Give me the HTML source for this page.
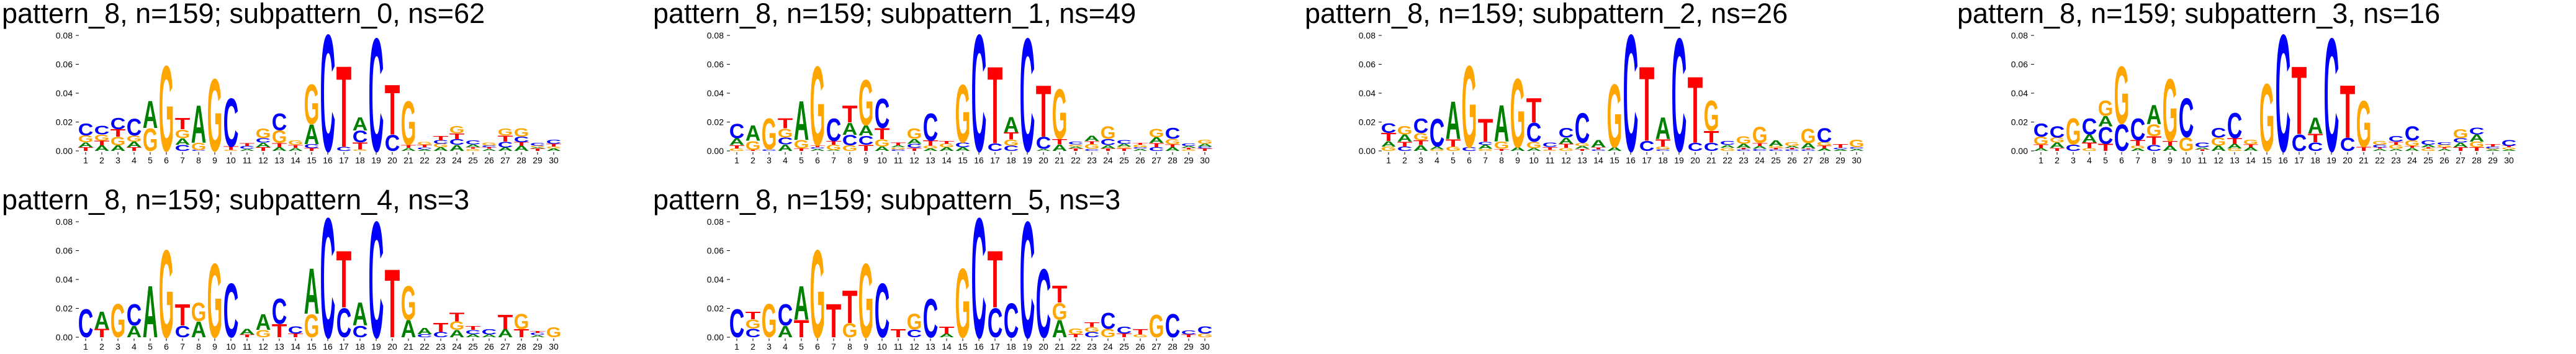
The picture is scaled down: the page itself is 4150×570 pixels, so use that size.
<!DOCTYPE html>
<html><head><meta charset="utf-8">
<style>
html,body{margin:0;padding:0;background:#fff;width:4150px;height:570px;overflow:hidden;}
svg{display:block;overflow:hidden;}
text{font-family:"Liberation Sans",sans-serif;}
</style></head>
<body>
<svg id="chart" width="4150" height="570" xmlns="http://www.w3.org/2000/svg"></svg>
<script>
const titles = [
 "pattern_8, n=159; subpattern_0, ns=62",
 "pattern_8, n=159; subpattern_1, ns=49",
 "pattern_8, n=159; subpattern_2, ns=26",
 "pattern_8, n=159; subpattern_3, ns=16",
 "pattern_8, n=159; subpattern_4, ns=3",
 "pattern_8, n=159; subpattern_5, ns=3"
];
const positions = [1,2,3,4,5,6,7,8,9,10,11,12,13,14,15,16,17,18,19,20,21,22,23,24,25,26,27,28,29,30];
const yTicks = [0, 0.02, 0.04, 0.06, 0.08];
const yTickLabels = ["0.00","0.02","0.04","0.06","0.08"];
// stacks bottom->top, heights in units of 0.001
const stacks0 = ["T2.6 A3.4 G4.7 C8.6","A3.9 T3.3 G4.3 C6.4","A3.9 G5.9 T5.3 C7.9","T2.6 A3.9 G4.3 C11.9","G16 A19.3","G60.7","C4.3 A4.6 G6.1 T7.9","C0.7 G5 A26.7","G51.4","G0.7 T2.4 C34.3","A1.4 C2.1 T2.1","T2.6 A3.1 C3.1 G6.9","A2.6 T2.9 G8.9 C12.1","A2.1 T2.1 G3.1","T1.9 C2.9 A13.9 G28.3","C82.9","C2.9 T57.6","G1.1 T4.9 C8.3 A9.3","C80.3","C11.4 T35.4","A2.1 T2.1 G31.1","A1.1 C1.4 T1.7 G2.1","A2.6 G2.4 C2.4 T3","A4.3 C3.9 T4 G5","G1.4 T1.1 A2.1 C2.7","A1.4 T1.1 C1.4 G2","A2.4 C4 T4.3 G4.7","A3.6 T2.4 C4 G6.1","T1.7 A0.9 G1 C1.9","A1.7 G1.4 T1.9 C2.9"];
const stacks1 = ["G1.7 T2.3 A4.9 C10.4","T0.7 G6.4 A10.7","C1 G22.1","A4.6 C4.7 G6.4 T7.1","T1.7 G5.9 A27.7","A1.4 C1.1 T1.4 G56.3","A0.7 G3.6 T2.6 C16","G3.9 C7.3 A8.6 T12","T4.3 C6.4 A7.1 G32.4","A3.1 G5.1 T7.7 C20.9","C1.1 G1.4 A1.3 T1.9","T2.1 C2.9 A3.3 G7.4","A1.7 G1.9 T3.6 C19.3","A2.6 G2.4 T2.1","A2.6 C3.4 G41.1","C82.9","C5.3 T54.7","C3.6 G4.3 T5 A10.7","C80.3","A1.4 C8.6 T36.7","A4.6 T3.7 G35.3","T1.7 A1.4 G1.4 C1.9","C1.4 G3.3 T2.1 A3.6","T1.7 A2.3 C4.3 G8.9","T1.7 G1.4 A1.9 C2.4","A1.4 C1.1 G1.7 T1.4","C2.6 T2.9 A3.9 G6.1","A2.6 T2 G3.7 C7.7","G1.1 T1 A1.4 C1.7","T1.7 C1.4 A1.9 G2.9"];
const stacks2 = ["G3.1 A3.7 T5.7 C6.7","C3.1 T3.3 A5 G6","A4 T3.4 G5.1 C10.3","G1.1 A2 C19.7","G3.1 T5.1 A27","C2.6 G58.1","G1.4 A2.9 C2.1 T16.4","T1.4 G5 A26","A2.6 G48.9","A2 G4.4 C13.3 T17.4","G0.7 T2.1 C3.1","G2.1 T2.9 A4.3 C6.7","T1.4 A2.1 G2.1 C21","C1.1 T1.4 A5","A2.6 G44.9","C82.9","C7.1 T52.9","C1.1 G2 T5.1 A15.3","C80.3","C5.7 T47.1","C5.7 T8.3 G21.3","G2.1 A2.1 C2.4","C1.1 T1 A2.9 G5.4","C1.4 A2.1 T2.1 G11.4","C1.1 T1 G1.4 A3.9","C1.1 T1 A1.4 G2.4","C1.1 T0.6 A3.7 G10.3","A1.7 T1.9 G2.4 C10.1","A1.1 C1 T2.6","A1.4 C1.1 G5.3"];
const stacks3 = ["A1.9 T2.4 G5.7 C9.3","T2.1 A3.6 G3.6 C8.1","C4.6 G18.6","G1.9 T3.9 A5.7 C11.4","T5 C11.9 A7.4 G10.7","C18.9 G40.9","A1.7 G1.9 T3.9 C15.4","C4.3 T6 G8.3 A13.6","A3.6 T3.3 G44.3","G9.7 C27.7","T1.1 A1.4 C3.4","A3.6 G5.7 C6.7","G1.7 A3.3 T3.9 C17.9","A2.6 T2 G3.3","G47.9","C82.9","C11.7 T48.3","C6 T6.1 A11.4","C80.3","C9.3 T37.4","T2.9 G32.9","A1.4 T1 C1.9 G2.4","A1.4 G2.9 T2.1 C3.9","A2.1 T1.4 G3.9 C10","G1.7 T0.9 A1.7 C3.1","A1.4 T1.1 G1.7 C1.7","T2.6 A3.1 C3.1 G6.6","T2.6 G3.9 A5 C4.7","A1.1 G0.7 C1.3 T1.6","A1.1 G1.4 T1 C4.3"];
const stacks4 = ["C19.9","T5.9 A12.2","G23.7","A8.1 C15.1","A36.5","G62.2","C8.1 T15.1","A11.2 G13.1","G52.6","C38.4","T1.9 A4.1","G5.1 A11.2","T9.3 C17.9","T2.6 C5.1","G16.3 A32.2","C85","C20.7 T40.4","C8.1 A16.2","C82.5","T48.5","A12.2 G24","C2.2 A4.4","C3.7 T6.6","A5.1 G5.9 T6.3","A2.2 C2.9 T2.4","A1.9 C3.7","A5.6 T10.3","T5.6 G10.7","A1.5 C1.6 T1.5","G7.1"];
const stacks5 = ["C19.9","C6 G6.5 T5.3","G23.7","A8.1 C15.1","T12.2 A24","G62.2","T23.7","G10 T23.1","G52.6","C38.4","T5.6","C5.3 G11","C27.4","A2.4 T5.1","G49","C85","C20.7 T40.4","C24.4","C82.5","C48.7","A12.2 G11.8 T12.1","T2.2 G4.1","C3.7 G3.4 T3.4","G5.9 C11.5","T2.6 C4.9","G1.9 T3.7","G15.9","C16.6","T1.9 C2.9","G2.6 C5.1"];
const allStacks = [stacks0, stacks1, stacks2, stacks3, stacks4, stacks5];
const panelX = [0, 1049, 2099, 3150, 0, 1049];
const panelY = [0, 0, 0, 0, 300, 300];

const colors = {A:"#008000", C:"#0000ff", G:"#ffa500", T:"#ff0000"};
const NS = "http://www.w3.org/2000/svg";
const svg = document.getElementById('chart');
const STEP = 26, LW = 24.6, CAP = 71.6;

function mk(tag, attrs, parent){
  const e = document.createElementNS(NS, tag);
  for (const k in attrs) e.setAttribute(k, attrs[k]);
  parent.appendChild(e);
  return e;
}

allStacks.forEach((stacks, p) => {
  const ox = panelX[p], oy = panelY[p];
  const xScale = i => ox + 138 + (i - 1) * STEP;
  const yScale = v => oy + 243 - v * (186 / 0.08);
  const g = mk('g', {}, svg);
  
  

  const t = mk('text', {x: ox + 3, y: oy + 37, 'font-size': 45, fill: '#000'}, g);
  
  
  t.textContent = titles[p];

  yTicks.forEach((v, k) => {
    const y = yScale(v);
    const tk = mk('line', {x1: ox + 122, x2: ox + 127, y1: y, y2: y, stroke: '#000', 'stroke-width': 1}, g);
    
    
    const lb = mk('text', {x: ox + 117, y: y + 5, 'font-size': 14, 'text-anchor': 'end', fill: '#000'}, g);
    
    
    lb.textContent = yTickLabels[k];
  });

  positions.forEach((pos, i) => {
    const cx = xScale(pos);
    const tk = mk('line', {x1: cx, x2: cx, y1: oy + 245, y2: oy + 249, stroke: '#000', 'stroke-width': 1}, g);
    
    
    const lb = mk('text', {x: cx, y: oy + 263, 'font-size': 14, 'text-anchor': 'middle', fill: '#000'}, g);
    
    
    lb.textContent = String(pos);

    let cum = 0;
    stacks[i].split(' ').forEach(tok => {
      const letter = tok[0];
      const h = parseFloat(tok.slice(1)) / 1000;
      const yb = yScale(cum), yt = yScale(cum + h);
      cum += h;
      const hp = yb - yt;
      if (hp <= 0) return;
      const tx = mk('text', {
        x: 0, y: 0, 'font-size': 100, 'font-weight': 'bold',
        fill: colors[letter], textLength: LW, lengthAdjust: 'spacingAndGlyphs',
        transform: 'translate(' + (cx - LW / 2) + ',' + yb + ') scale(1,' + (hp / CAP) + ')'
      }, g);
      
      
      tx.textContent = letter;
    });
  });
});
</script>
</body></html>
